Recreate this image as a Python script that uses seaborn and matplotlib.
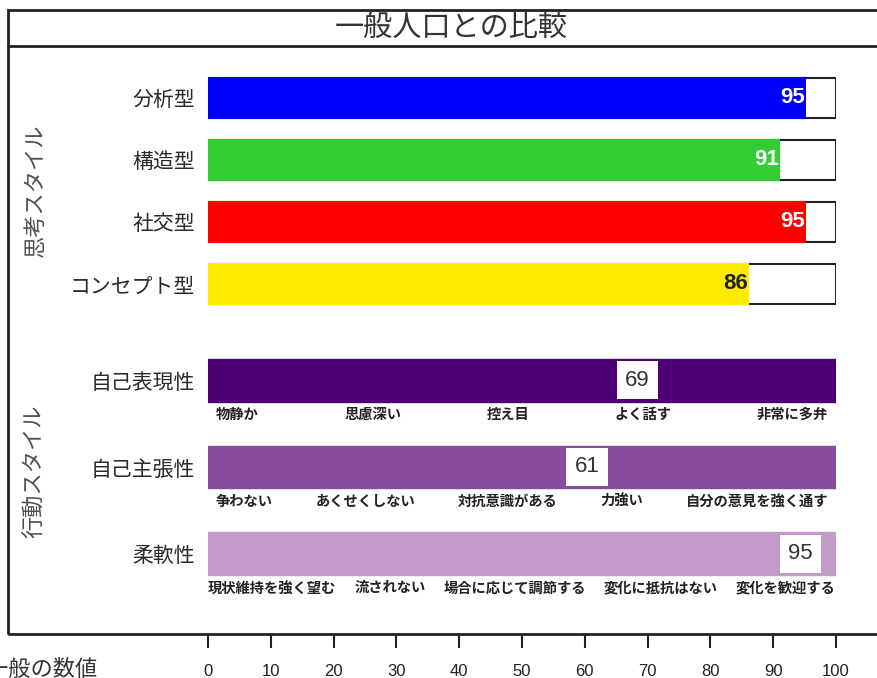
import matplotlib
matplotlib.use("Agg")
import matplotlib.pyplot as plt
from matplotlib.patches import Rectangle
from matplotlib.lines import Line2D
import seaborn as sns
import pandas as pd

# --- data -------------------------------------------------------------
title = "一般人口との比較"
axis_caption = "一般の数値"

thinking_group = "思考スタイル"
thinking_names = ["分析型", "構造型", "社交型", "コンセプト型"]
thinking_scores = [95, 91, 95, 86]
thinking_colors = ["#0000FF", "#33CC33", "#FF0000", "#FFEB00"]
thinking_text_colors = ["white", "white", "white", "#222222"]

behavior_group = "行動スタイル"
behavior_names = ["自己表現性", "自己主張性", "柔軟性"]
behavior_scores = [69, 61, 95]
behavior_colors = ["#4D0076", "#884C9C", "#C39BC9"]
behavior_scale_labels = [
    ["物静か", "思慮深い", "控え目", "よく話す", "非常に多弁"],
    ["争わない", "あくせくしない", "対抗意識がある", "力強い", "自分の意見を強く通す"],
    ["現状維持を強く望む", "流されない", "場合に応じて調節する", "変化に抵抗はない", "変化を歓迎する"],
]

scale_max = 100
tick_values = list(range(0, 101, 10))

# --- style ------------------------------------------------------------
sns.set_style("white")
JP = ["Noto Sans CJK JP", "DejaVu Sans"]
NUM = ["Liberation Sans", "DejaVu Sans"]
NARROW = ["Liberation Sans Narrow", "Liberation Sans", "DejaVu Sans"]
plt.rcParams["font.family"] = JP
INK = "#222222"

W, H = 878, 678
fig = plt.figure(figsize=(W / 100, H / 100), dpi=100)


def rect(left, top, right, bottom):
    return [left / W, 1 - bottom / H, (right - left) / W, (bottom - top) / H]


def px(x, y):
    return x / W, 1 - y / H


# outer frame and title band
fig.patches.append(Rectangle(px(8, 634), 885 / W, 624 / H, transform=fig.transFigure,
                             fill=False, edgecolor=INK, linewidth=2, clip_on=False))
fig.lines.append(Line2D([8 / W, 1], [1 - 46 / H] * 2, transform=fig.transFigure,
                        color=INK, linewidth=2))
fig.text(*px(451, 28), title, ha="center", va="center", fontsize=21, color="#333333")

# --- thinking styles --------------------------------------------------
ax_t = fig.add_axes(rect(208, 67, 836, 315))
think_df = pd.DataFrame({"name": thinking_names, "score": thinking_scores,
                         "full": [scale_max] * len(thinking_names)})
sns.barplot(data=think_df, x="full", y="name", orient="h", color="white",
            saturation=1, width=0.66, edgecolor=INK, linewidth=1.5, ax=ax_t)
n_bg = len(ax_t.patches)
sns.barplot(data=think_df, x="score", y="name", hue="name", orient="h",
            palette=thinking_colors, saturation=1, width=0.66, legend=False,
            linewidth=1.5, ax=ax_t)
for p in ax_t.patches[n_bg:]:
    p.set_edgecolor(p.get_facecolor())
for i, (v, c) in enumerate(zip(thinking_scores, thinking_text_colors)):
    ax_t.text(v, i, str(v), ha="right", va="center", fontsize=16,
              fontweight="bold", color=c, family=NUM)

# --- behaviour styles -------------------------------------------------
ax_b = fig.add_axes(rect(208, 337, 836, 597))
beh_df = pd.DataFrame({"name": behavior_names, "score": behavior_scores,
                       "full": [scale_max] * len(behavior_names)})
sns.barplot(data=beh_df, x="full", y="name", hue="name", orient="h",
            palette=behavior_colors, saturation=1, width=0.49, legend=False,
            linewidth=1, ax=ax_b)
for p in ax_b.patches:
    p.set_edgecolor(p.get_facecolor())
for i, v in enumerate(behavior_scores):
    ax_b.annotate(str(v), (v, i), xytext=(-4, 0), textcoords="offset pixels",
                  ha="center", va="center", fontsize=16, color="#333333", family=NUM,
                  bbox=dict(boxstyle="square,pad=0.38", facecolor="white", edgecolor="none"))

for ax in (ax_t, ax_b):
    ax.set_xlim(0, scale_max)
    n = len(ax.get_yticks())
    ax.set_ylim(n - 0.5, -0.5)
    ax.set_xlabel("")
    ax.set_ylabel("")
    ax.set_xticks([])
    ax.tick_params(axis="y", length=0, pad=9.5, labelsize=15, labelcolor="#2a2a2a")
    for s in ax.spines.values():
        s.set_visible(False)
    ax.set_facecolor("none")

# scale descriptors under each behaviour bar, spread across the bar width
renderer = fig.canvas.get_renderer()
x0, x1 = ax_b.transData.transform([(0, 0), (scale_max, 0)])[:, 0]
for i, labels in enumerate(behavior_scale_labels):
    texts = [ax_b.text(0, i + 0.4, s, ha="left", va="center", fontsize=10.3,
                       fontweight="bold", color=INK) for s in labels]
    widths = [t.get_window_extent(renderer).width for t in texts]
    inset = 8
    gap = (x1 - x0 - 2 * inset - sum(widths)) / (len(labels) - 1)
    start = x0 + inset
    if gap < 18:
        gap = 18
        total = sum(widths) + gap * (len(labels) - 1)
        start = (x0 + x1) / 2 - total / 2
    pos = start
    for t, w in zip(texts, widths):
        t.set_x(ax_b.transData.inverted().transform((pos, 0))[0])
        pos += w + gap

# group captions
fig.text(*px(35, 190), thinking_group, rotation=90, ha="center", va="center",
         fontsize=16, color="#505050")
fig.text(*px(35, 471), behavior_group, rotation=90, ha="center", va="center",
         fontsize=16, color="#505050")

# --- value axis below the frame ---------------------------------------
ax_x = fig.add_axes(rect(208, 634, 836, 635))
ax_x.set_xlim(0, scale_max)
ax_x.set_xticks(tick_values)
ax_x.set_yticks([])
for s in ax_x.spines.values():
    s.set_visible(False)
ax_x.set_facecolor("none")
ax_x.tick_params(axis="x", direction="out", length=9, width=1.5, color=INK,
                 pad=12, labelsize=12, labelcolor=INK, bottom=True)
for lab in ax_x.get_xticklabels():
    lab.set_family(NARROW)
fig.text(*px(97, 669), axis_caption, ha="right", va="center", fontsize=16,
         color="#333333")

fig.savefig("out.png", dpi=100, facecolor="white")
